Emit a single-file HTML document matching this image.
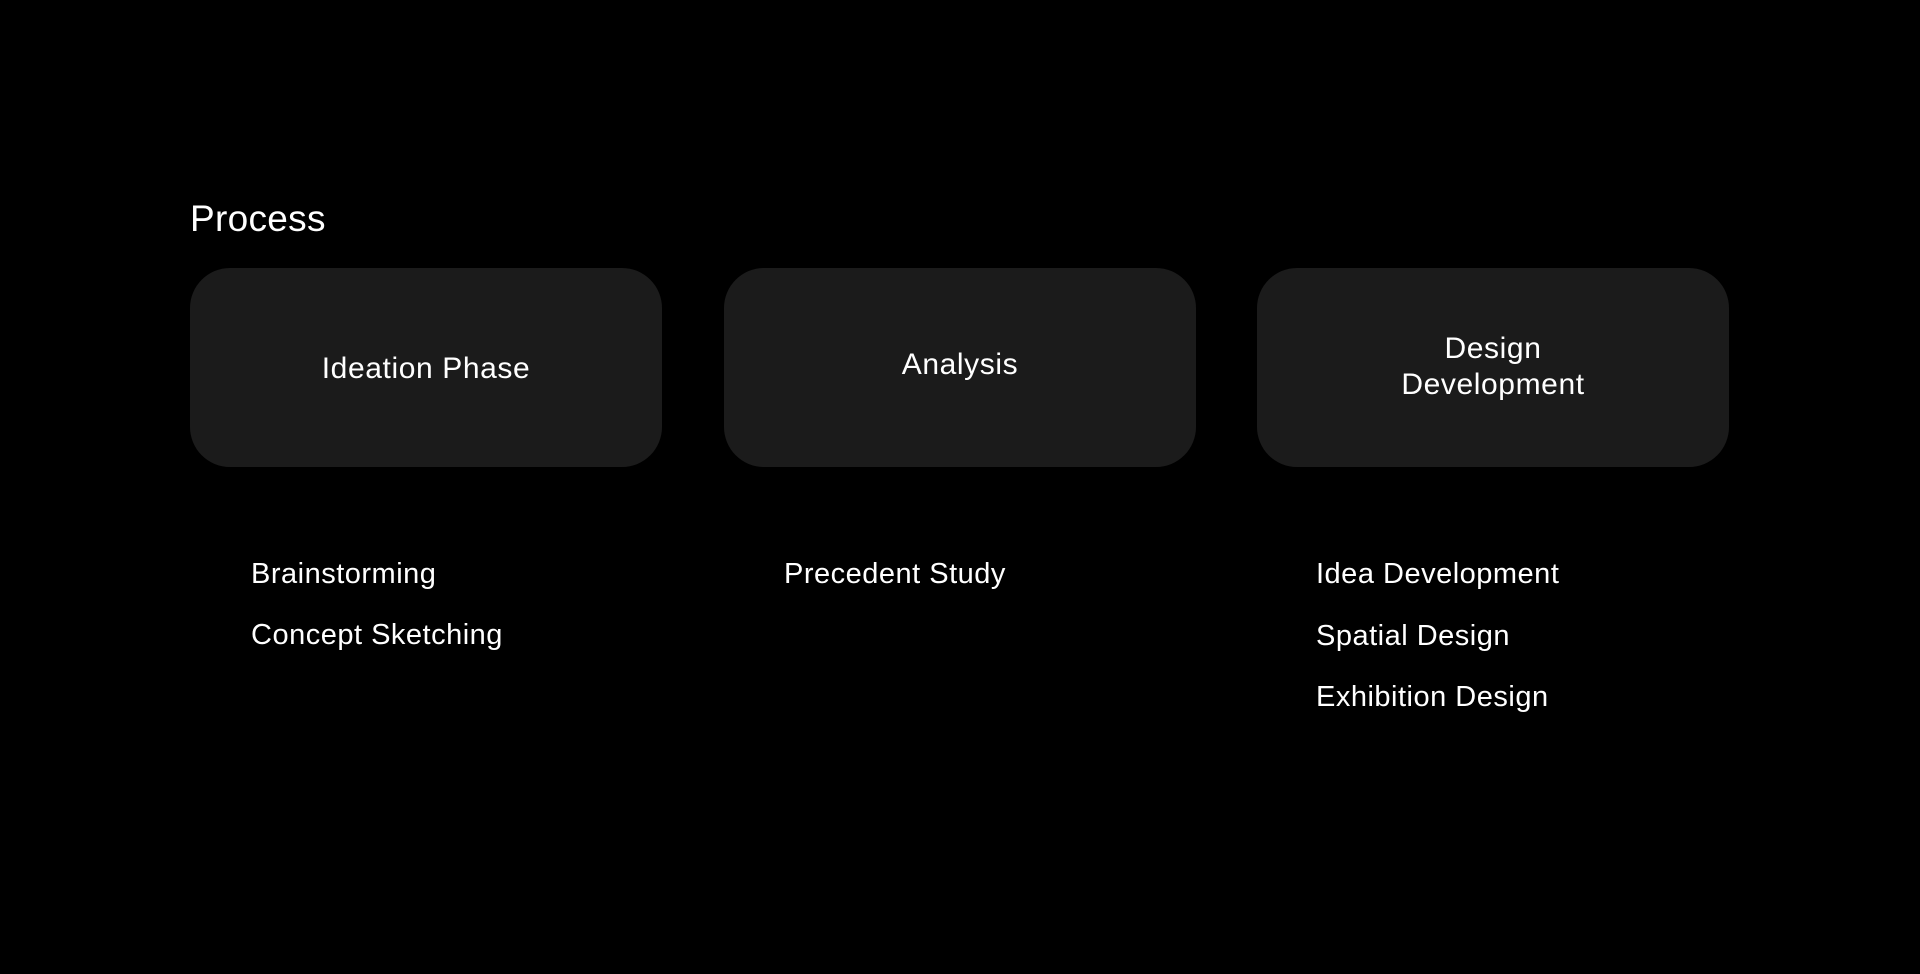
<!DOCTYPE html>
<html><head><style>
html,body{margin:0;padding:0;background:#000;width:1920px;height:974px;overflow:hidden;font-family:"Liberation Sans",sans-serif;color:#fff}
.t{position:absolute;left:190px;top:197px;font-size:37px;line-height:44px;letter-spacing:0.3px}
.b{position:absolute;top:268px;height:199px;width:472px;background:#1b1b1b;border-radius:40px;display:flex;align-items:center;justify-content:center;text-align:center;font-size:30px;line-height:36px;letter-spacing:0.6px}
.l{position:absolute;font-size:29px;line-height:30px;letter-spacing:0.5px}
</style></head><body>
<div class="t">Process</div>
<div class="b" style="left:190px;padding-top:2px;box-sizing:border-box">Ideation Phase</div>
<div class="b" style="left:724px;padding-bottom:6px;box-sizing:border-box">Analysis</div>
<div class="b" style="left:1257px;padding-bottom:2px;box-sizing:border-box">Design<br>Development</div>
<div class="l" style="left:251px;top:559px">Brainstorming</div>
<div class="l" style="left:251px;top:620px">Concept Sketching</div>
<div class="l" style="left:784px;top:559px">Precedent Study</div>
<div class="l" style="left:1316px;top:559px">Idea Development</div>
<div class="l" style="left:1316px;top:621px">Spatial Design</div>
<div class="l" style="left:1316px;top:682px">Exhibition Design</div>
</body></html>
